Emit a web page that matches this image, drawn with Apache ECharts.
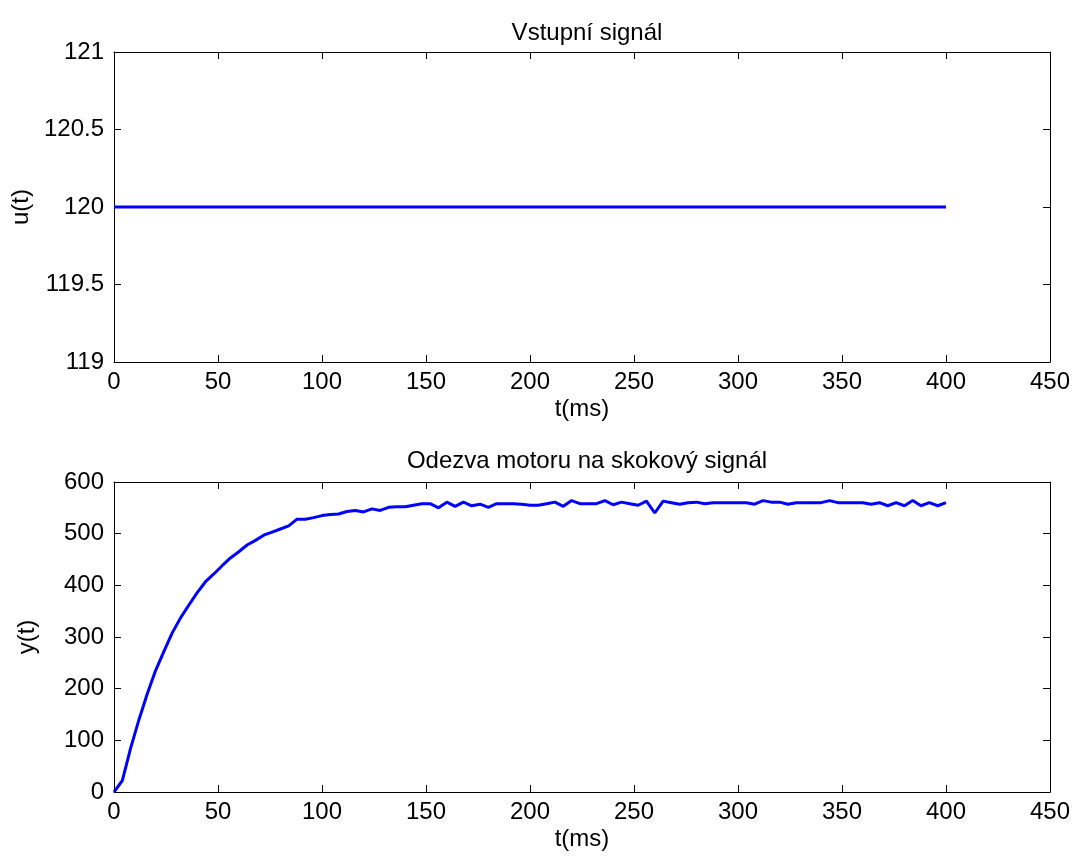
<!DOCTYPE html>
<html>
<head>
<meta charset="utf-8">
<script src="https://cdn.jsdelivr.net/npm/echarts@6/dist/echarts.min.js"></script>
<style>
html,body{margin:0;padding:0;background:#fff;}
#chart{width:1077px;height:856px;}
</style>
</head>
<body>
<div id="chart"></div>
<script>
// Data
const inputTime = [0, 400];
const inputValues = [120, 120];
const timeMs = [
  0,4,8,12,16,20,24,28,32,36,
  40,44,48,52,56,60,64,68,72,76,
  80,84,88,92,96,100,104,108,112,116,
  120,124,128,132,136,140,144,148,152,156,
  160,164,168,172,176,180,184,188,192,196,
  200,204,208,212,216,220,224,228,232,236,
  240,244,248,252,256,260,264,268,272,276,
  280,284,288,292,296,300,304,308,312,316,
  320,324,328,332,336,340,344,348,352,356,
  360,364,368,372,376,380,384,388,392,396,
  400
];
const responseValues = [
  0,22,85,140,190,235,272,308,337,362,
  386,407,422,438,453,465,478,487,497,503,
  509,515,528,528,531,535,537,538,543,545,
  542,548,545,551,552,552,555,558,558,550,
  561,553,561,554,557,551,558,558,558,557,
  555,555,558,561,553,564,558,558,558,564,
  556,561,558,555,563,540,563,560,557,560,
  561,558,560,560,560,560,560,557,564,561,
  561,557,560,560,560,560,564,560,560,560,
  560,557,560,554,560,554,564,554,560,554,
  560
];
const xTicks = {min: 0, max: 450, interval: 50};
const uTicks = {min: 119, max: 121, interval: 0.5};
const yTicks = {min: 0, max: 600, interval: 100};
const titles = ['Vstupní signál', 'Odezva motoru na skokový signál'];
const xName = 't(ms)';
const yNames = ['u(t)', 'y(t)'];

const FONT = '"Liberation Sans", Arial, sans-serif';
const tickFont = 24;

function mainX(gridIndex) {
  return {
    type: 'value', gridIndex, position: 'bottom',
    min: xTicks.min, max: xTicks.max, interval: xTicks.interval,
    name: xName, nameLocation: 'middle', nameGap: 35,
    nameTextStyle: {color: '#000', fontSize: tickFont, fontFamily: FONT},
    axisLine: {show: true, onZero: false, lineStyle: {color: '#000', width: 1}},
    axisTick: {show: true, inside: true, length: 7, lineStyle: {color: '#000'}},
    axisLabel: {color: '#000', fontSize: tickFont, fontFamily: FONT, margin: 8},
    splitLine: {show: false}
  };
}
function mirrorX(gridIndex) {
  return {
    type: 'value', gridIndex, position: 'top',
    min: xTicks.min, max: xTicks.max, interval: xTicks.interval,
    axisLine: {show: true, onZero: false, lineStyle: {color: '#000', width: 1}},
    axisTick: {show: true, inside: true, length: 7, lineStyle: {color: '#000'}},
    axisLabel: {show: false},
    splitLine: {show: false}
  };
}
function mainY(gridIndex, t, name, fmt) {
  return {
    type: 'value', gridIndex, position: 'left',
    min: t.min, max: t.max, interval: t.interval,
    name: name, nameLocation: 'middle', nameGap: 75, nameRotate: 90,
    nameTextStyle: {color: '#000', fontSize: tickFont, fontFamily: FONT},
    axisLine: {show: true, onZero: false, lineStyle: {color: '#000', width: 1}},
    axisTick: {show: true, inside: true, length: 7, lineStyle: {color: '#000'}},
    axisLabel: {color: '#000', fontSize: tickFont, fontFamily: FONT, margin: 10, formatter: fmt},
    splitLine: {show: false}
  };
}
function mirrorY(gridIndex, t) {
  return {
    type: 'value', gridIndex, position: 'right',
    min: t.min, max: t.max, interval: t.interval,
    axisLine: {show: true, onZero: false, lineStyle: {color: '#000', width: 1}},
    axisTick: {show: true, inside: true, length: 7, lineStyle: {color: '#000'}},
    axisLabel: {show: false},
    splitLine: {show: false}
  };
}

const chart = echarts.init(document.getElementById('chart'), null, {renderer: 'canvas'});
chart.setOption({
  backgroundColor: '#fff',
  animation: false,
  title: [
    {text: titles[0], left: 582, top: 16, textAlign: 'center',
     textStyle: {color: '#000', fontSize: 24, fontWeight: 'normal', fontFamily: FONT}},
    {text: titles[1], left: 582, top: 444, textAlign: 'center',
     textStyle: {color: '#000', fontSize: 24, fontWeight: 'normal', fontFamily: FONT}}
  ],
  grid: [
    {left: 114, top: 52, width: 936, height: 310},
    {left: 114, top: 482, width: 936, height: 310}
  ],
  xAxis: [mainX(0), mirrorX(0), mainX(1), mirrorX(1)],
  yAxis: [
    mainY(0, uTicks, yNames[0], v => String(v)),
    mirrorY(0, uTicks),
    mainY(1, yTicks, yNames[1], v => String(v)),
    mirrorY(1, yTicks)
  ],
  series: [
    {type: 'line', xAxisIndex: 0, yAxisIndex: 0, showSymbol: false,
     data: inputTime.map((t, i) => [t, inputValues[i]]),
     lineStyle: {color: '#0000ff', width: 3}},
    {type: 'line', xAxisIndex: 2, yAxisIndex: 2, showSymbol: false,
     data: timeMs.map((t, i) => [t, responseValues[i]]),
     lineStyle: {color: '#0000ff', width: 3}}
  ]
});
</script>
</body>
</html>
